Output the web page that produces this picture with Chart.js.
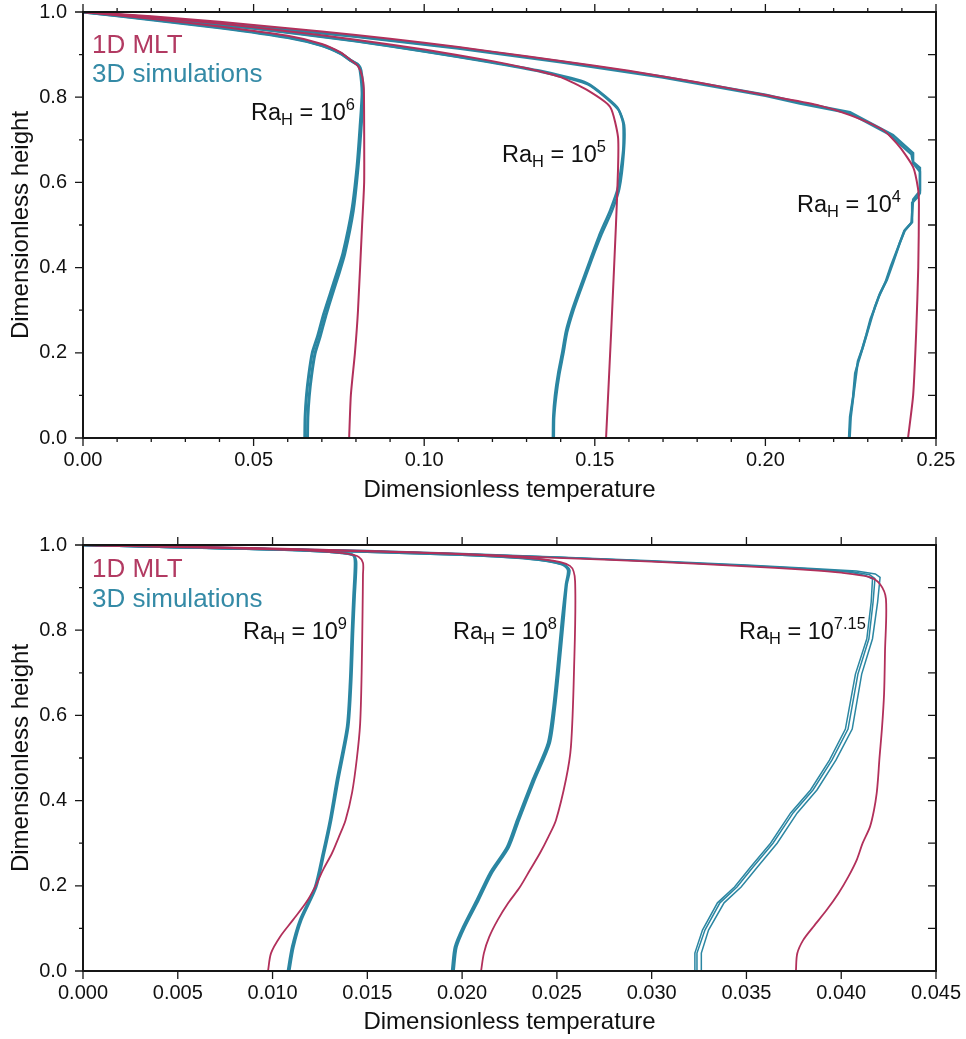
<!DOCTYPE html>
<html lang="en">
<head>
<meta charset="UTF-8">
<title>Dimensionless temperature profiles</title>
<script src="https://cdn.jsdelivr.net/npm/chart.js"></script>
<style>
  body { margin: 0; width: 966px; height: 1039px; position: relative; background: #fff; overflow: hidden;
         font-family: 'Liberation Sans', Arial, sans-serif; }
  canvas { position: absolute; left: 0; }
  .lbl { position: absolute; line-height: 1; white-space: nowrap; }
  .legend { font-size: 26px; left: 92px; }
  .mlt { color: #b23a62; }
  .sim { color: #348aa6; }
  .ra { font-size: 23.5px; color: #111; }
  .ra sub { font-size: 70%; vertical-align: -0.32em; line-height: 0; }
  .ra sup { font-size: 70%; vertical-align: 0.6em; line-height: 0; }
</style>
</head>
<body>
<canvas id="topChart" width="966" height="520" style="top:0"></canvas>
<canvas id="bottomChart" width="966" height="506" style="top:533px"></canvas>

<div class="lbl legend mlt" style="top:31px">1D MLT</div>
<div class="lbl legend sim" style="top:60px">3D simulations</div>
<div class="lbl legend mlt" style="top:555px">1D MLT</div>
<div class="lbl legend sim" style="top:585px">3D simulations</div>

<div class="lbl ra" style="left:251px; top:101px">Ra<sub>H</sub> = 10<sup>6</sup></div>
<div class="lbl ra" style="left:502px; top:143px">Ra<sub>H</sub> = 10<sup>5</sup></div>
<div class="lbl ra" style="left:797px; top:193px">Ra<sub>H</sub> = 10<sup>4</sup></div>
<div class="lbl ra" style="left:243px; top:620px">Ra<sub>H</sub> = 10<sup>9</sup></div>
<div class="lbl ra" style="left:453px; top:620px">Ra<sub>H</sub> = 10<sup>8</sup></div>
<div class="lbl ra" style="left:739px; top:620px">Ra<sub>H</sub> = 10<sup>7.15</sup></div>

<script>
// ---- top panel (Ra_H = 10^4, 10^5, 10^6) ----
const mlt4T = [0, 0.02, 0.04, 0.06, 0.08, 0.10, 0.12, 0.14, 0.16, 0.18, 0.20, 0.2151, 0.2248, 0.2345, 0.2394, 0.2433, 0.2447, 0.2450, 0.2448, 0.2442, 0.2433, 0.2418];
const mlt4H = [1, 0.99, 0.977, 0.962, 0.946, 0.928, 0.907, 0.885, 0.862, 0.835, 0.805, 0.782, 0.758, 0.723, 0.683, 0.636, 0.587, 0.55, 0.40, 0.25, 0.10, 0];
const sim4aT = [0, 0.02, 0.05, 0.08, 0.11, 0.14, 0.17, 0.2, 0.2101, 0.2248, 0.2374, 0.2433, 0.2433, 0.2453, 0.2453, 0.2447, 0.2430, 0.2430, 0.2409, 0.2394, 0.2374, 0.2356, 0.2336, 0.2321, 0.2312, 0.2298, 0.2286, 0.2274, 0.2263, 0.2257, 0.2248, 0.2245];
const sim4aH = [1, 0.988, 0.967, 0.943, 0.916, 0.884, 0.848, 0.806, 0.788, 0.765, 0.711, 0.669, 0.648, 0.634, 0.575, 0.566, 0.552, 0.507, 0.488, 0.458, 0.411, 0.371, 0.340, 0.308, 0.284, 0.246, 0.214, 0.183, 0.152, 0.097, 0.050, 0];
const sim4bT = [0, 0.02, 0.05, 0.08, 0.11, 0.14, 0.17, 0.2, 0.2101, 0.2248, 0.2362, 0.2428, 0.2433, 0.2453, 0.2453, 0.2441, 0.2433, 0.2428, 0.2407, 0.2390, 0.2368, 0.2352, 0.2333, 0.2319, 0.2308, 0.2296, 0.2284, 0.2271, 0.2266, 0.2258, 0.2250, 0.2247];
const sim4bH = [1, 0.987, 0.966, 0.942, 0.914, 0.882, 0.846, 0.803, 0.785, 0.762, 0.713, 0.666, 0.645, 0.625, 0.580, 0.568, 0.560, 0.505, 0.486, 0.450, 0.404, 0.366, 0.333, 0.302, 0.279, 0.243, 0.210, 0.180, 0.150, 0.100, 0.048, 0];

const mlt5T = [0, 0.02, 0.04, 0.06, 0.08, 0.10, 0.1184, 0.13, 0.14, 0.1477, 0.1545, 0.1568, 0.1568, 0.1562, 0.1548, 0.1533];
const mlt5H = [1, 0.988, 0.973, 0.955, 0.935, 0.912, 0.887, 0.868, 0.847, 0.817, 0.777, 0.707, 0.629, 0.5, 0.25, 0];
const sim5aT = [0, 0.02, 0.05, 0.08, 0.10, 0.1184, 0.1340, 0.1477, 0.1565, 0.1583, 0.1583, 0.1568, 0.1545, 0.1515, 0.1486, 0.1455, 0.1433, 0.1415, 0.1404, 0.1392, 0.1383, 0.1378, 0.1377];
const sim5aH = [1, 0.986, 0.962, 0.932, 0.908, 0.884, 0.862, 0.833, 0.777, 0.739, 0.676, 0.589, 0.535, 0.48, 0.418, 0.35, 0.3, 0.25, 0.2, 0.15, 0.1, 0.05, 0];
const sim5bT = [0, 0.02, 0.05, 0.08, 0.10, 0.1184, 0.1340, 0.1480, 0.1568, 0.1586, 0.1585, 0.1572, 0.1550, 0.1520, 0.1490, 0.1459, 0.1437, 0.1419, 0.1408, 0.1396, 0.1387, 0.1381, 0.1380];
const sim5bH = [1, 0.985, 0.961, 0.931, 0.907, 0.883, 0.860, 0.830, 0.772, 0.735, 0.670, 0.585, 0.532, 0.478, 0.416, 0.348, 0.298, 0.248, 0.198, 0.148, 0.098, 0.048, 0];

const mlt6T = [0, 0.02, 0.04, 0.06, 0.07, 0.0755, 0.0785, 0.0806, 0.0818, 0.0823, 0.0824, 0.0824, 0.0818, 0.0806, 0.0797, 0.0785, 0.0780];
const mlt6H = [1, 0.984, 0.966, 0.944, 0.925, 0.905, 0.887, 0.873, 0.85, 0.82, 0.73, 0.6, 0.5, 0.3, 0.2, 0.1, 0];
const sim6aT = [0, 0.02, 0.04, 0.06, 0.07, 0.0755, 0.0783, 0.0806, 0.0812, 0.0818, 0.0812, 0.0803, 0.0788, 0.0762, 0.0745, 0.0725, 0.0705, 0.0688, 0.0672, 0.0662, 0.0655, 0.0651, 0.0650];
const sim6aH = [1, 0.983, 0.964, 0.941, 0.922, 0.903, 0.887, 0.876, 0.864, 0.81, 0.73, 0.636, 0.535, 0.434, 0.39, 0.34, 0.29, 0.24, 0.2, 0.15, 0.1, 0.05, 0];
const sim6bT = [0, 0.02, 0.04, 0.06, 0.07, 0.0756, 0.0785, 0.0808, 0.0815, 0.0821, 0.0815, 0.0806, 0.0792, 0.0767, 0.0751, 0.0731, 0.0712, 0.0695, 0.0680, 0.0670, 0.0663, 0.0659, 0.0658];
const sim6bH = [1, 0.982, 0.963, 0.94, 0.921, 0.902, 0.886, 0.874, 0.862, 0.808, 0.728, 0.634, 0.533, 0.432, 0.388, 0.338, 0.288, 0.238, 0.198, 0.148, 0.098, 0.048, 0];

// ---- bottom panel (Ra_H = 10^7.15, 10^8, 10^9) ----
const mlt9T = [0, 0.005, 0.0079, 0.0115, 0.0130, 0.0140, 0.01455, 0.01477, 0.01477, 0.01475, 0.0147, 0.01462, 0.01445, 0.0142, 0.01385, 0.0135, 0.01314, 0.01266, 0.01224, 0.01176, 0.01108, 0.01039, 0.00992, 0.00976];
const mlt9H = [1, 0.996, 0.993, 0.988, 0.984, 0.979, 0.972, 0.958, 0.93, 0.85, 0.7, 0.58, 0.5, 0.42, 0.354, 0.315, 0.277, 0.237, 0.197, 0.16, 0.12, 0.08, 0.042, 0];
const sim9aT = [0, 0.005, 0.008, 0.0115, 0.0130, 0.01356, 0.01425, 0.01435, 0.01427, 0.01419, 0.01409, 0.01393, 0.0134, 0.01303, 0.01266, 0.01224, 0.01145, 0.01103, 0.01081];
const sim9aH = [1, 0.995, 0.992, 0.988, 0.984, 0.982, 0.976, 0.958, 0.88, 0.8, 0.68, 0.573, 0.45, 0.354, 0.277, 0.197, 0.12, 0.056, 0];
const sim9bT = [0, 0.005, 0.008, 0.0115, 0.0130, 0.0136, 0.01428, 0.01441, 0.01433, 0.01425, 0.01415, 0.01399, 0.01347, 0.01309, 0.01272, 0.0123, 0.01152, 0.0111, 0.01088];
const sim9bH = [1, 0.995, 0.992, 0.988, 0.984, 0.982, 0.976, 0.958, 0.88, 0.8, 0.68, 0.573, 0.45, 0.354, 0.277, 0.197, 0.12, 0.056, 0];

const mlt8T = [0, 0.005, 0.01, 0.015, 0.02, 0.02432, 0.02569, 0.02596, 0.0259, 0.02574, 0.02548, 0.02495, 0.02455, 0.02411, 0.02358, 0.02305, 0.02244, 0.02188, 0.02143, 0.02115, 0.021];
const mlt8H = [1, 0.995, 0.99, 0.985, 0.978, 0.966, 0.951, 0.915, 0.7, 0.526, 0.45, 0.354, 0.315, 0.277, 0.237, 0.197, 0.16, 0.12, 0.08, 0.042, 0];
const sim8aT = [0, 0.005, 0.01, 0.015, 0.02, 0.0235, 0.02527, 0.02559, 0.02548, 0.02527, 0.025, 0.02482, 0.02453, 0.02374, 0.0229, 0.02237, 0.02147, 0.02078, 0.02005, 0.01962, 0.01947];
const sim8aH = [1, 0.995, 0.99, 0.984, 0.977, 0.968, 0.955, 0.941, 0.908, 0.824, 0.697, 0.62, 0.535, 0.45, 0.354, 0.291, 0.23, 0.167, 0.103, 0.056, 0];
const sim8bT = [0, 0.005, 0.01, 0.015, 0.02, 0.0236, 0.02532, 0.02566, 0.02552, 0.02535, 0.02508, 0.0249, 0.02462, 0.02383, 0.02299, 0.02246, 0.02156, 0.02087, 0.02013, 0.0197, 0.01955];
const sim8bH = [1, 0.995, 0.99, 0.984, 0.977, 0.968, 0.955, 0.941, 0.908, 0.824, 0.697, 0.62, 0.535, 0.45, 0.354, 0.291, 0.23, 0.167, 0.103, 0.056, 0];

const mlt7T = [0, 0.005, 0.01, 0.015, 0.02, 0.025, 0.03, 0.035, 0.038, 0.04, 0.04146, 0.04205, 0.04236, 0.04231, 0.04226, 0.04215, 0.04201, 0.04195, 0.04187, 0.04173, 0.04152, 0.04113, 0.04082, 0.04037, 0.03985, 0.03923, 0.03853, 0.038, 0.03768, 0.03761];
const mlt7H = [1, 0.996, 0.992, 0.986, 0.979, 0.97, 0.961, 0.95, 0.942, 0.935, 0.925, 0.908, 0.873, 0.75, 0.65, 0.57, 0.495, 0.456, 0.417, 0.378, 0.339, 0.3, 0.261, 0.221, 0.182, 0.143, 0.104, 0.073, 0.041, 0];
const sim7aT = [0, 0.005, 0.01, 0.015, 0.02, 0.025, 0.03, 0.035, 0.038, 0.0405, 0.0413, 0.04165, 0.04158, 0.04135, 0.04075, 0.04022, 0.03938, 0.03838, 0.03733, 0.03627, 0.03522, 0.03437, 0.03347, 0.03268, 0.03228, 0.03228];
const sim7aH = [1, 0.995, 0.991, 0.986, 0.979, 0.971, 0.962, 0.951, 0.944, 0.936, 0.928, 0.92, 0.866, 0.78, 0.697, 0.568, 0.495, 0.425, 0.371, 0.3, 0.244, 0.197, 0.16, 0.096, 0.042, 0];
const sim7bT = [0, 0.005, 0.01, 0.015, 0.02, 0.025, 0.03, 0.035, 0.038, 0.0406, 0.0415, 0.04178, 0.04168, 0.04146, 0.04088, 0.04036, 0.03951, 0.03851, 0.03746, 0.0364, 0.03535, 0.0345, 0.0336, 0.03281, 0.03239, 0.03239];
const sim7bH = [1, 0.995, 0.991, 0.986, 0.979, 0.971, 0.962, 0.952, 0.945, 0.937, 0.93, 0.921, 0.866, 0.78, 0.697, 0.568, 0.495, 0.425, 0.371, 0.3, 0.244, 0.197, 0.16, 0.096, 0.042, 0];
const sim7cT = [0, 0.005, 0.01, 0.015, 0.02, 0.025, 0.03, 0.035, 0.038, 0.0408, 0.0418, 0.04205, 0.04192, 0.04165, 0.04108, 0.04058, 0.03972, 0.03872, 0.03768, 0.03662, 0.03558, 0.03472, 0.03382, 0.03300, 0.03262, 0.03262];
const sim7cH = [1, 0.995, 0.991, 0.987, 0.98, 0.972, 0.963, 0.953, 0.946, 0.939, 0.932, 0.924, 0.866, 0.78, 0.697, 0.568, 0.495, 0.425, 0.371, 0.3, 0.244, 0.197, 0.16, 0.096, 0.042, 0];

const RED = '#b2305b';
const TEAL = '#2b86a2';

Chart.defaults.font.family = "'Liberation Sans', Arial, sans-serif";
Chart.defaults.color = '#111';

function profile(T, H, color, width, tension, order) {
  return {
    data: T.map((t, i) => ({ x: t, y: H[i] })),
    showLine: true, fill: false, pointRadius: 0,
    borderColor: color, borderWidth: width,
    tension: tension, order: order
  };
}

// frame + tick marks, drawn from the chart's own scales
const frameTicks = {
  id: 'frameTicks',
  afterDraw(chart, args, o) {
    const { ctx, chartArea: a, scales: { x, y } } = chart;
    const marks = (max, step, major, fn) => {
      const n = Math.round(max / step);
      for (let i = 0; i <= n; i++) {
        const v = i * step;
        const r = v / major;
        fn(v, Math.abs(r - Math.round(r)) < 1e-6);
      }
    };
    ctx.save();
    ctx.strokeStyle = '#161616';
    ctx.lineWidth = 1.3;
    ctx.beginPath();
    marks(o.xMax, o.xMinor, o.xMajor, (v, big) => {
      const px = x.getPixelForValue(v);
      ctx.moveTo(px, a.bottom); ctx.lineTo(px, a.bottom + (big ? 8 : 4));
      ctx.moveTo(px, a.top); ctx.lineTo(px, a.top - (big ? 8 : 4));
    });
    marks(1, 0.1, 0.2, (v, big) => {
      const py = y.getPixelForValue(v);
      ctx.moveTo(a.left, py); ctx.lineTo(a.left - (big ? 8 : 4), py);
      ctx.moveTo(a.right, py); ctx.lineTo(a.right - 8, py);
    });
    ctx.stroke();
    ctx.lineWidth = 2;
    ctx.strokeRect(a.left, a.top, a.right - a.left, a.bottom - a.top);
    ctx.restore();
  }
};

function makeChart(id, datasets, xMax, xStep, xMinor, digits, axisH, titlePad) {
  return new Chart(document.getElementById(id), {
    type: 'scatter',
    data: { datasets: datasets },
    plugins: [frameTicks],
    options: {
      responsive: false,
      animation: false,
      devicePixelRatio: 1,
      layout: { padding: { top: 12, right: 30, left: 0, bottom: 0 } },
      plugins: {
        legend: { display: false },
        tooltip: { enabled: false },
        frameTicks: { xMax: xMax, xMinor: xMinor, xMajor: xStep }
      },
      scales: {
        x: {
          type: 'linear', min: 0, max: xMax,
          afterFit: s => { s.height = axisH; s.paddingLeft = 0; s.paddingRight = 0; },
          grid: { display: false, drawTicks: false },
          border: { display: false },
          ticks: { stepSize: xStep, autoSkip: false, maxRotation: 0, padding: 10,
                   font: { size: 20 }, color: '#111', callback: v => v.toFixed(digits) },
          title: { display: true, text: 'Dimensionless temperature', font: { size: 24 },
                   color: '#111', padding: { top: 0, bottom: titlePad } }
        },
        y: {
          type: 'linear', min: 0, max: 1,
          afterFit: s => { s.width = 83; s.paddingTop = 0; s.paddingBottom = 0; },
          grid: { display: false, drawTicks: false },
          border: { display: false },
          ticks: { stepSize: 0.2, padding: 16, font: { size: 20 }, color: '#111',
                   callback: v => v.toFixed(1) },
          title: { display: true, text: 'Dimensionless height', font: { size: 24 },
                   color: '#111', padding: { top: 7, bottom: 0 } }
        }
      }
    }
  });
}

makeChart('topChart', [
  profile(mlt4T, mlt4H, RED, 2, 0.2, 0),
  profile(mlt5T, mlt5H, RED, 2, 0.2, 0),
  profile(mlt6T, mlt6H, RED, 2, 0.2, 0),
  profile(sim4aT, sim4aH, TEAL, 2.4, 0, 1),
  profile(sim4bT, sim4bH, TEAL, 2.4, 0, 1),
  profile(sim5aT, sim5aH, TEAL, 2.4, 0.2, 1),
  profile(sim5bT, sim5bH, TEAL, 2.4, 0.2, 1),
  profile(sim6aT, sim6aH, TEAL, 3, 0.2, 1),
  profile(sim6bT, sim6bH, TEAL, 3, 0.2, 1)
], 0.25, 0.05, 0.01, 2, 82, 15);

makeChart('bottomChart', [
  profile(mlt9T, mlt9H, RED, 1.8, 0.3, 0),
  profile(mlt8T, mlt8H, RED, 1.8, 0.3, 0),
  profile(mlt7T, mlt7H, RED, 1.8, 0.3, 0),
  profile(sim9aT, sim9aH, TEAL, 2.6, 0.25, 1),
  profile(sim9bT, sim9bH, TEAL, 2.6, 0.25, 1),
  profile(sim8aT, sim8aH, TEAL, 2.6, 0.25, 1),
  profile(sim8bT, sim8bH, TEAL, 2.6, 0.25, 1),
  profile(sim7aT, sim7aH, TEAL, 1.5, 0, 1),
  profile(sim7bT, sim7bH, TEAL, 1.5, 0, 1),
  profile(sim7cT, sim7cH, TEAL, 1.5, 0, 1)
], 0.045, 0.005, 0.005, 3, 68, 2);
</script>
</body>
</html>
